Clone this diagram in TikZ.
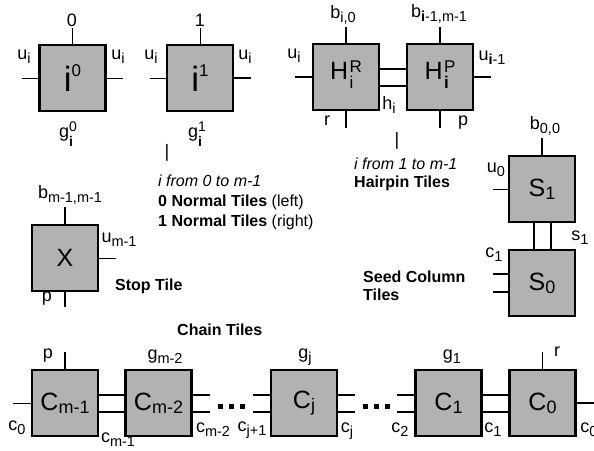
\documentclass[tikz,border=0pt]{standalone}
\usepackage{fontspec}
\setmainfont{Liberation Sans}

% indices des etiquettes
\newcommand{\ssub}[1]{\raisebox{-4pt}{\fontsize{14.5}{14.5}\selectfont #1}}
\newcommand{\ssupsub}[2]{\rlap{\raisebox{6pt}{\fontsize{14}{14}\selectfont #1}}\raisebox{-9pt}{\fontsize{14}{14}\selectfont #2}}
% indices des tuiles
\newcommand{\tsub}[1]{\raisebox{-3pt}{\fontsize{18}{18}\selectfont #1}}
\newcommand{\tsupsub}[2]{\kern1.5pt\raisebox{-9pt}{\fontsize{17}{17}\selectfont\begin{tabular}[b]{@{}l@{}}#1\\[-2pt]#2\end{tabular}}}

\begin{document}
\begin{tikzpicture}[x=1pt, y=-1pt,
        tuile/.style={draw, line width=2.4pt, fill=black!30, minimum size=66pt, inner sep=0pt, font=\fontsize{25}{25}\selectfont},
        lab/.style={inner sep=0pt, font=\fontsize{18}{18}\selectfont},
        texte/.style={inner sep=0pt, anchor=base west, font=\fontsize{16}{16}\selectfont},
        fin/.style={line width=1pt},
        fil/.style={line width=1.8pt},
        lien/.style={line width=2pt}]
        \useasboundingbox (0,0) rectangle (594,450);

        % Tuiles normales
        \node[tuile] (n0) at (72.5,78) {\fontsize{35}{35}\selectfont i\raisebox{15pt}{\fontsize{17}{17}\selectfont 0}};
        \node[tuile] (n1) at (200,78) {\fontsize{35}{35}\selectfont i\raisebox{15pt}{\fontsize{17}{17}\selectfont 1}};
        \draw[fin] (n0.north) -- ++(0,-16);
        \draw[fin] (n0.west) -- ++(-16,0);
        \draw[fin] (n0.east) -- ++(16,0);
        \draw[fin] (n1.north) -- ++(0,-16);
        \draw[fin] (n1.west) -- ++(-16,0);
        \draw[fil] (n1.east) -- ++(17,0);
        \node[lab] (n0t) at (72,20) {0};
        \node[lab] (n1t) at (200,20) {1};
        \node[lab] (n0l) at (24,57) {u\ssub{i}};
        \node[lab] (n0r) at (118,57) {u\ssub{i}};
        \node[lab] (n1l) at (151,57) {u\ssub{i}};
        \node[lab] (n1r) at (245,57) {u\ssub{i}};
        \node[lab] (n0b) at (66,134) {g\ssupsub{0}{\textbf{i}}};
        \node[lab] (n1b) at (195,134) {g\ssupsub{1}{\textbf{i}}};
        \node[lab] (tic1) at (167,153) {|};
        \node[texte] (nl1) at (158,186) {\itshape i from 0 to m-1};
        \node[texte] (nl2) at (158,206) {\textbf{0 Normal Tiles} (left)};
        \node[texte] (nl3) at (158,226) {\textbf{1 Normal Tiles} (right)};

        % Tuiles epingle
        \node[tuile] (hr) at (346,77) {H\tsupsub{R}{i}};
        \node[tuile] (hp) at (440,77) {H\tsupsub{P}{\textbf{i}}};
        \draw[lien] ([yshift=8.5pt]hr.east) -- ([yshift=8.5pt]hp.west);
        \draw[lien] ([yshift=-8.5pt]hr.east) -- ([yshift=-8.5pt]hp.west);
        \draw[fil] (hr.north) -- ++(0,-16);
        \draw[fil] (hr.west) -- ++(-17,0);
        \draw[fil] (hr.south) -- ++(0,17);
        \draw[fil] (hp.north) -- ++(0,-16);
        \draw[fil] (hp.east) -- ++(17,0);
        \draw[fil] (hp.south) -- ++(0,17);
        \node[lab] (hrt) at (343,15) {b\ssub{i,0}};
        \node[lab] (hpt) at (439,14) {b\ssub{\textbf{i}-1,m-1}};
        \node[lab] (hrl) at (294,56) {u\ssub{i}};
        \node[lab] (hpr) at (492,58) {u\ssub{\textbf{i}-1}};
        \node[lab] (hrh) at (389,105) {h\ssub{i}};
        \node[lab] (hrb) at (327,121) {r};
        \node[lab] (hpb) at (463,123) {p};
        \node[lab] (tic2) at (397,141) {|};
        \node[texte] (hl1) at (354,169) {\itshape i from 1 to m-1};
        \node[texte] (hl2) at (354,187) {\bfseries Hairpin Tiles};

        % Tuile d'arret
        \node[tuile] (x) at (65,258) {X};
        \draw[fil] (x.north) -- ++(0,-17);
        \draw[fin] (x.east) -- ++(17,0);
        \draw[fil] (x.south) -- ++(0,15);
        \node[lab] (xt) at (70,195) {b\ssub{m-1,m-1}};
        \node[lab] (xr) at (119,240) {u\ssub{m-1}};
        \node[lab] (xb) at (47,299) {p};
        \node[texte] (xl) at (115,290) {\bfseries Stop Tile};

        % Colonne de depart
        \node[tuile] (s1) at (542,189) {S\tsub{1}};
        \node[tuile] (s0) at (542,283) {S\tsub{0}};
        \draw[lien] ([xshift=-8.5pt]s1.south) -- ([xshift=-8.5pt]s0.north);
        \draw[lien] ([xshift=8.5pt]s1.south) -- ([xshift=8.5pt]s0.north);
        \draw[fil] (s1.north) -- ++(0,-17);
        \draw[fin] (s1.west) -- ++(-15,0);
        \draw[fil] ([yshift=9pt]s0.west) -- ++(-15,0);
        \draw[fil] ([yshift=-9pt]s0.west) -- ++(-15,0);
        \node[lab] (s1t) at (545,126) {b\ssub{0,0}};
        \node[lab] (s1l) at (496,170) {u\ssub{0}};
        \node[lab] (s1r) at (580,238) {s\ssub{1}};
        \node[lab] (s0l) at (494,255) {c\ssub{1}};
        \node[texte] (sl1) at (363,282) {\bfseries Seed Column};
        \node[texte] (sl2) at (363,300) {\bfseries Tiles};

        % Tuiles de chaine
        \node[texte] (cl) at (177,335) {\bfseries Chain Tiles};
        \node[tuile] (cm1) at (65,403) {C\tsub{m-1}};
        \node[tuile] (cm2) at (158.5,403) {C\tsub{m-2}};
        \node[tuile] (cj) at (304,403) {C\tsub{j}};
        \node[tuile] (c1) at (448.5,403) {C\tsub{1}};
        \node[tuile] (c0) at (542.5,403) {C\tsub{0}};
        \foreach \a/\b in {cm1/cm2, c1/c0} {
            \draw[lien] ([yshift=8.5pt]\a.east) -- ([yshift=8.5pt]\b.west);
            \draw[lien] ([yshift=-8.5pt]\a.east) -- ([yshift=-8.5pt]\b.west);
        }
        \foreach \a in {cm2, cj} {
            \draw[lien] ([yshift=8.5pt]\a.east) -- ++(17,0);
            \draw[lien] ([yshift=-8.5pt]\a.east) -- ++(17,0);
        }
        \foreach \a in {cj, c1} {
            \draw[lien] ([yshift=8.5pt]\a.west) -- ++(-17,0);
            \draw[lien] ([yshift=-8.5pt]\a.west) -- ++(-17,0);
        }
        \node[inner sep=0pt] (pts1) at (231,406) {\rule{5pt}{5pt}\hspace{6pt}\rule{5pt}{5pt}\hspace{6pt}\rule{5pt}{5pt}};
        \node[inner sep=0pt] (pts2) at (376,406) {\rule{5pt}{5pt}\hspace{6pt}\rule{5pt}{5pt}\hspace{6pt}\rule{5pt}{5pt}};
        \draw[fil] (cm1.north) -- ++(0,-17);
        \draw[fin] (cm1.west) -- ++(-18,0);
        \draw[fil] (c0.north) -- ++(0,-17);
        \draw[fil] (c0.east) -- ++(18,0);
        \node[lab] (cm1t) at (48,356) {p};
        \node[lab] (cm2t) at (165,357) {g\ssub{m-2}};
        \node[lab] (cjt) at (305,357) {g\ssub{j}};
        \node[lab] (c1t) at (452,357) {g\ssub{1}};
        \node[lab] (c0t) at (557,352) {r};
        \node[lab] (cm1l) at (17,428) {c\ssub{0}};
        \node[lab] (cm1r) at (118,440) {c\ssub{m-1}};
        \node[lab] (cm2r) at (213,430) {c\ssub{m-2}};
        \node[lab] (cjl) at (252,430) {c\ssub{j+1}};
        \node[lab] (cjr) at (347,431) {c\ssub{j}};
        \node[lab] (c1l) at (400,430) {c\ssub{2}};
        \node[lab] (c1r) at (493,430) {c\ssub{1}};
        \node[lab] (c0r) at (589,430) {c\ssub{0}};
    \end{tikzpicture}
\end{document}
